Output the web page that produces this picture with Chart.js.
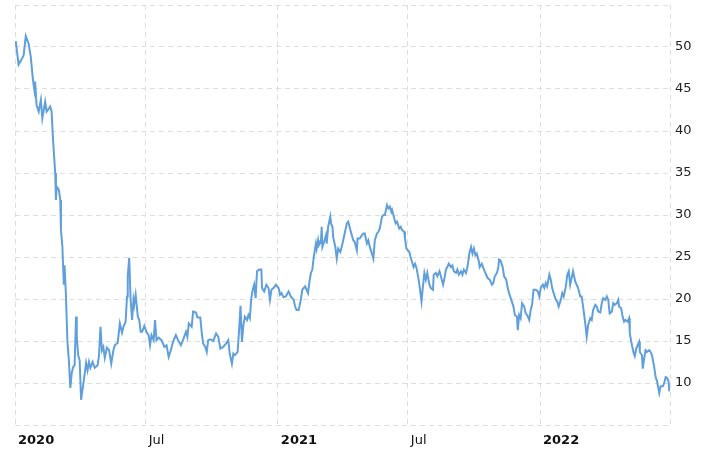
<!DOCTYPE html>
<html>
<head>
<meta charset="utf-8">
<script src="https://cdn.jsdelivr.net/npm/chart.js@4"></script>
<style>
  body { margin: 0; background: #fff; }
</style>
</head>
<body>
<canvas id="chartCanvas" width="720" height="450"></canvas>
<script>
// days counted from 2020-01-01
let days = [1, 5, 9, 12, 15, 19, 22, 25, 27, 28, 30, 33, 36, 38, 42, 44, 49, 51, 53, 56, 57, 58, 61, 63, 64, 66, 67, 68, 69, 71, 72, 73, 75, 77, 79, 81, 83, 85, 86, 88, 90, 92, 94, 96, 99, 101, 103, 105, 108, 111, 115, 117, 119, 121, 123, 125, 128, 131, 134, 137, 139, 143, 146, 149, 151, 154, 156, 157, 159, 161, 163, 165, 166, 168, 171, 173, 175, 177, 180, 183, 186, 188, 190, 193, 195, 197, 200, 204, 208, 211, 214, 217, 220, 224, 227, 231, 234, 238, 240, 242, 246, 248, 252, 254, 258, 260, 262, 265, 267, 269, 272, 276, 280, 283, 286, 290, 294, 297, 299, 302, 304, 306, 310, 312, 314, 316, 318, 320, 323, 325, 327, 329, 331, 333, 335, 337, 340, 343, 344, 347, 350, 353, 355, 357, 361, 363, 367, 369, 371, 374, 377, 381, 384, 388, 390, 392, 395, 398, 400, 404, 408, 410, 412, 414, 416, 419, 420, 422, 423, 426, 427, 428, 431, 433, 434, 436, 439, 440, 442, 443, 446, 448, 450, 453, 456, 459, 462, 464, 467, 469, 471, 473, 476, 477, 480, 483, 485, 487, 490, 492, 494, 497, 499, 501, 504, 506, 508, 511, 513, 515, 518, 520, 522, 524, 525, 528, 530, 532, 535, 537, 539, 542, 543, 545, 549, 551, 555, 557, 559, 562, 564, 566, 568, 570, 572, 574, 577, 579, 582, 583, 586, 588, 591, 593, 596, 598, 600, 602, 604, 607, 609, 611, 614, 616, 618, 621, 623, 625, 628, 630, 633, 635, 637, 639, 641, 643, 646, 647, 650, 652, 654, 658, 661, 664, 666, 668, 671, 673, 674, 676, 679, 681, 684, 686, 688, 691, 694, 696, 699, 700, 702, 704, 706, 709, 711, 713, 716, 718, 720, 722, 725, 728, 730, 732, 735, 737, 739, 741, 744, 746, 748, 750, 753, 755, 757, 760, 762, 764, 767, 769, 771, 773, 775, 777, 780, 782, 784, 787, 789, 791, 794, 796, 798, 801, 803, 805, 808, 810, 812, 815, 817, 819, 822, 824, 826, 828, 831, 833, 835, 838, 840, 841, 844, 846, 848, 850, 853, 855, 856, 859, 861, 863, 865, 867, 869, 870, 873, 874, 876, 878, 880, 883, 885, 887, 890, 892, 894, 897, 899, 902, 904, 906, 908, 910, 911];

let prices = [50.7, 47.9, 48.5, 49.0, 51.3, 50.4, 48.8, 46.1, 44.9, 45.9, 43.1, 42.3, 43.7, 41.5, 43.5, 42.3, 42.9, 42.3, 38.9, 35.0, 31.8, 33.4, 33.0, 31.8, 28.2, 26.2, 23.8, 21.7, 24.0, 20.3, 17.5, 14.9, 12.7, 9.4, 11.2, 11.9, 12.1, 17.9, 15.5, 13.3, 12.7, 8.0, 9.2, 10.4, 12.4, 11.5, 12.5, 11.8, 12.5, 11.8, 12.1, 13.3, 16.7, 13.9, 14.3, 13.0, 14.2, 13.9, 12.3, 13.9, 14.5, 14.8, 17.1, 16.0, 16.7, 17.3, 20.3, 22.7, 24.9, 19.9, 17.5, 19.9, 19.3, 20.5, 17.9, 17.5, 16.1, 16.1, 16.8, 16.1, 15.7, 14.5, 15.7, 15.1, 17.5, 15.1, 15.4, 15.1, 14.3, 14.5, 13.1, 13.9, 14.9, 15.7, 15.1, 14.5, 15.1, 16.1, 15.5, 17.1, 16.7, 18.5, 18.4, 17.8, 17.8, 16.0, 14.7, 14.3, 13.7, 15.1, 15.2, 15.0, 15.9, 15.5, 14.1, 14.3, 14.7, 15.1, 13.5, 12.3, 13.5, 13.3, 13.7, 16.3, 19.2, 14.9, 16.9, 17.9, 17.5, 18.1, 17.7, 20.1, 21.1, 21.7, 20.1, 23.3, 23.5, 23.5, 21.3, 20.9, 21.7, 21.3, 19.9, 21.1, 21.4, 21.7, 21.3, 20.5, 20.7, 20.2, 20.3, 20.9, 20.3, 19.9, 19.1, 18.7, 18.7, 19.9, 21.1, 21.5, 20.7, 22.1, 23.1, 23.5, 25.0, 26.6, 26.0, 27.0, 26.4, 26.8, 28.6, 26.2, 27.0, 27.6, 26.6, 28.6, 29.8, 29.0, 28.6, 27.4, 26.2, 24.8, 26.0, 25.6, 26.6, 27.8, 29.0, 29.2, 28.2, 27.6, 27.0, 26.8, 25.8, 27.2, 27.2, 27.6, 27.8, 27.8, 26.6, 27.0, 26.2, 25.4, 24.8, 27.0, 27.8, 28.0, 28.4, 29.8, 30.0, 30.0, 31.2, 30.8, 31.0, 30.4, 30.6, 29.6, 29.0, 29.2, 28.4, 28.6, 28.2, 28.0, 27.2, 26.0, 25.6, 24.9, 23.8, 24.2, 23.7, 22.3, 21.1, 19.7, 21.5, 23.1, 22.3, 23.1, 21.7, 21.3, 21.1, 22.9, 23.1, 22.7, 23.3, 22.7, 21.7, 22.5, 23.5, 23.8, 24.2, 23.8, 24.0, 23.3, 23.1, 23.5, 22.9, 23.3, 22.9, 23.5, 23.1, 23.8, 25.6, 26.2, 25.4, 26.0, 25.2, 25.4, 24.4, 23.8, 24.2, 23.7, 23.3, 22.5, 22.3, 21.7, 21.9, 22.7, 23.1, 23.8, 24.7, 24.6, 23.8, 22.7, 22.3, 21.3, 20.7, 19.9, 19.1, 18.1, 17.9, 16.3, 18.1, 17.7, 19.5, 19.1, 18.3, 18.1, 17.5, 18.7, 19.3, 21.1, 21.1, 20.9, 20.3, 21.3, 21.7, 21.3, 21.9, 21.5, 22.9, 22.3, 21.3, 20.7, 19.9, 19.7, 19.1, 19.9, 20.7, 20.3, 21.5, 22.9, 23.3, 21.7, 22.5, 23.3, 22.1, 21.7, 21.3, 20.3, 20.3, 19.1, 17.1, 15.5, 16.9, 17.7, 17.5, 18.7, 19.3, 19.1, 18.5, 18.4, 19.5, 20.1, 19.9, 20.3, 19.9, 18.3, 18.5, 19.5, 19.3, 19.5, 19.9, 19.1, 18.9, 17.9, 17.3, 17.5, 17.3, 17.7, 15.9, 14.5, 13.7, 13.2, 14.1, 14.5, 14.9, 13.7, 13.3, 11.7, 12.9, 13.9, 13.7, 13.9, 13.7, 13.3, 11.9, 10.7, 10.2, 8.8, 9.6, 9.6, 10.0, 10.7, 10.6, 10.2, 9.0];

// tick positions on the day axis and their labels
let xTicks = [0, 182, 366, 547, 731, 912];
let xLabels = ['2020', 'Jul', '2021', 'Jul', '2022', ''];
let yTicks = [5, 10, 15, 20, 25, 30, 35, 40, 45, 50, 55];

let points = days.map((d, i) => ({ x: d, y: prices[i] }));

let ctx = document.querySelector('#chartCanvas');

let graph = new Chart(ctx, {
    type: 'line',
    data: {
        datasets: [{
            data: points,
            borderColor: '#5f9fdb',
            borderWidth: 2,
            pointRadius: 0,
            tension: 0,
            fill: false
        }]
    },
    options: {
        responsive: false,
        animation: false,
        layout: { padding: { left: 15, top: 5, right: 0, bottom: 0 } },
        plugins: {
            legend: { display: false },
            tooltip: { enabled: false }
        },
        scales: {
            x: {
                type: 'linear',
                min: 0,
                max: 912,
                afterBuildTicks: (scale) => {
                    scale.ticks = xTicks.map(v => ({ value: v }));
                },
                afterFit: (scale) => {
                    scale.height = 25;
                    scale.paddingLeft = 0;
                    scale.paddingRight = 0;
                },
                grid: { color: '#dedede', lineWidth: 1, drawTicks: false },
                border: { display: false, dash: [5, 4] },
                ticks: {
                    autoSkip: false,
                    maxRotation: 0,
                    align: 'start',
                    labelOffset: 3,
                    padding: 8,
                    color: '#111',
                    font: (c) => ({
                        family: 'DejaVu Sans',
                        size: 13,
                        weight: (c.tick && /^\d{4}$/.test(xLabels[xTicks.indexOf(c.tick.value)])) ? 'bold' : 'normal'
                    }),
                    callback: (v) => xLabels[xTicks.indexOf(v)]
                }
            },
            y: {
                position: 'right',
                min: 5,
                max: 55,
                afterBuildTicks: (scale) => {
                    scale.ticks = yTicks.map(v => ({ value: v }));
                },
                afterFit: (scale) => {
                    scale.width = 50;
                    scale.paddingTop = 0;
                    scale.paddingBottom = 0;
                },
                grid: { color: '#dedede', lineWidth: 1, drawTicks: false },
                border: { display: false, dash: [5, 4] },
                ticks: {
                    padding: 5,
                    color: '#222',
                    font: { family: 'DejaVu Sans', size: 13 },
                    callback: (v) => (v === 5 || v === 55) ? '' : v
                }
            }
        }
    }
});
</script>
</body>
</html>
